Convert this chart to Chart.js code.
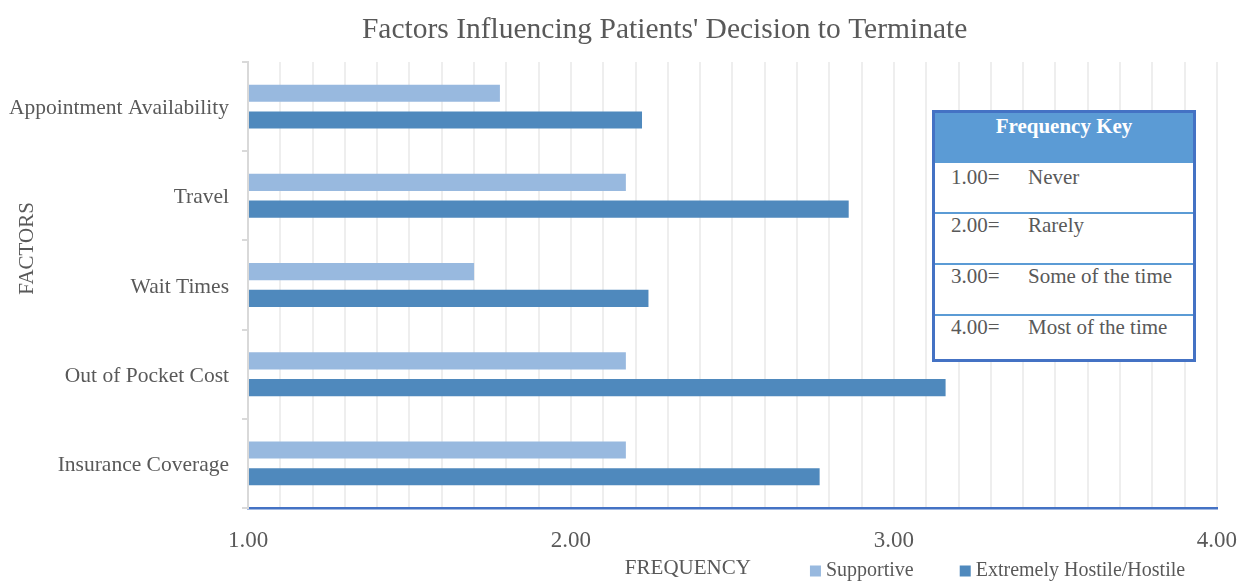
<!DOCTYPE html>
<html>
<head>
<meta charset="utf-8">
<title>Factors Influencing Patients' Decision to Terminate</title>
<script src="https://cdn.jsdelivr.net/npm/chart.js@4.4.0/dist/chart.umd.min.js"></script>
<style>
  body { margin: 0; background: #fff; }
  #wrap { position: relative; width: 1241px; height: 585px; }
  #freqKey {
    position: absolute; left: 932px; top: 110px;
    width: 258px; height: 246px;
    border: 3px solid #4472C4; background: #fff;
    font-family: "Liberation Serif", "Times New Roman", serif;
    font-size: 21px; color: #595959;
  }
  #freqKey .head {
    height: 50px; background: #5B9BD5; color: #fff;
    font-weight: bold; text-align: center; line-height: 26px;
  }
  #freqKey .row { height: 49px; line-height: 20px; padding: 4px 0 0 16px; box-sizing: border-box; display: flex; }
  #freqKey .row + .row { border-top: 2px solid #5B9BD5; height: 51px; padding-top: 1px; }
  #freqKey .row:last-child { height: 45px; }
  #freqKey .row span:first-child { width: 77px; }
</style>
</head>
<body>
<div id="wrap">
  <canvas id="chart" width="1241" height="585"></canvas>
  <div id="freqKey"><div class="head">Frequency Key</div></div>
</div>
<script>
const categories = ['Appointment Availability', 'Travel', 'Wait Times', 'Out of Pocket Cost', 'Insurance Coverage'];
const supportive = [1.78, 2.17, 1.70, 2.17, 2.17];
const hostile = [2.22, 2.86, 2.24, 3.16, 2.77];
const keyValues = ['1.00=', '2.00=', '3.00=', '4.00='];
const keyLabels = ['Never', 'Rarely', 'Some of the time', 'Most of the time'];

const serif = '"Liberation Serif", "Times New Roman", serif';
const grey = '#595959';

// frequency key table
const key = document.getElementById('freqKey');
keyValues.forEach((v, i) => {
    const row = document.createElement('div');
    row.className = 'row';
    row.innerHTML = '<span>' + v + '</span><span>' + keyLabels[i] + '</span>';
    key.appendChild(row);
});

// title, axis titles and legend sit off-centre in the original, so draw them by hand
const excelBits = {
    id: 'excelBits',
    afterDraw(chart) {
        const { ctx, chartArea: a } = chart;
        const w = a.right - a.left;
        ctx.save();
        ctx.fillStyle = grey;
        ctx.textAlign = 'center';
        ctx.textBaseline = 'middle';
        ctx.font = '29.5px ' + serif;
        ctx.fillText("Factors Influencing Patients' Decision to Terminate", a.left + w * 0.43, 30);

        ctx.font = '21px ' + serif;
        ctx.fillText('FREQUENCY', a.left + w * 0.454, a.bottom + 60);

        // legend
        ctx.font = '20px ' + serif;
        ctx.textAlign = 'left';
        let x = a.left + w * 0.58;
        const y = a.bottom + 63;
        chart.data.datasets.forEach((ds) => {
            ctx.fillStyle = ds.backgroundColor;
            ctx.fillRect(x, y - 5.5, 11, 11);
            ctx.fillStyle = grey;
            ctx.fillText(ds.label, x + 16, y);
            x += 16 + ctx.measureText(ds.label).width + 46;
        });

        ctx.textAlign = 'center';
        ctx.font = '21px ' + serif;
        ctx.translate(27, a.top + (a.bottom - a.top) * 0.418);
        ctx.rotate(-Math.PI / 2);
        ctx.fillText('FACTORS', 0, 0);
        ctx.restore();
    }
};

Chart.defaults.font.family = serif;
Chart.defaults.color = grey;

const ctx = document.getElementById('chart').getContext('2d');
const chart = new Chart(ctx, {
    type: 'bar',
    data: {
        labels: categories,
        datasets: [
            {
                label: 'Supportive',
                data: supportive,
                backgroundColor: '#98B9DF',
                base: 1
            },
            {
                label: 'Extremely Hostile/Hostile',
                data: hostile,
                backgroundColor: '#4F89BD',
                base: 1
            }
        ]
    },
    options: {
        indexAxis: 'y',
        responsive: false,
        animation: false,
        categoryPercentage: 0.6,
        barPercentage: 0.64,
        layout: { padding: { left: 0, right: 23, top: 62, bottom: 0 } },
        scales: {
            x: {
                min: 1,
                max: 4,
                afterFit: (s) => { s.height = 77; },
                ticks: {
                    stepSize: 0.1,
                    autoSkip: false,
                    maxRotation: 0,
                    minRotation: 0,
                    padding: 4,
                    font: { size: 23 },
                    color: grey,
                    callback: (v) => Math.abs(v - Math.round(v)) < 1e-6 ? v.toFixed(2) : ''
                },
                // invisible tick marks push the labels down without widening the right padding
                grid: { color: '#EEEEEE', lineWidth: 2, drawTicks: true, tickLength: 15, tickColor: 'rgba(0,0,0,0)' },
                border: { color: '#4472C4', width: 2.5 }
            },
            y: {
                afterFit: (s) => { s.width = 248; },
                ticks: { padding: 13, labelOffset: 2, font: { size: 21.5 }, color: grey },
                grid: { drawOnChartArea: false, color: '#D9D9D9', lineWidth: 2, tickLength: 6 },
                border: { color: '#D9D9D9', width: 2 }
            }
        },
        plugins: {
            legend: { display: false },
            tooltip: { enabled: false }
        }
    },
    plugins: [excelBits]
});
</script>
</body>
</html>
